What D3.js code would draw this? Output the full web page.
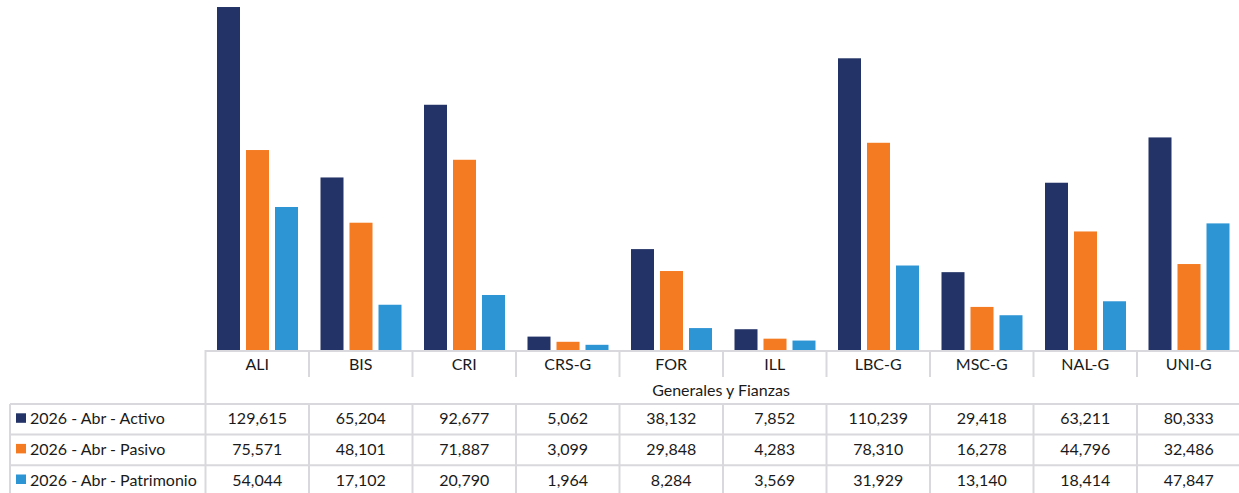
<!DOCTYPE html>
<html><head><meta charset="utf-8">
<script src="https://cdn.jsdelivr.net/npm/d3@7"></script>
<style>body{margin:0;background:#fff;}svg{display:block;font-family:Lato,"Open Sans",sans-serif;}</style>
</head><body><svg id="c" width="1239" height="493"></svg>
<script>
const categories = ["ALI","BIS","CRI","CRS-G","FOR","ILL","LBC-G","MSC-G","NAL-G","UNI-G"];
const groupLabel = "Generales y Fianzas";
const seriesNames = ["2026 - Abr - Activo","2026 - Abr - Pasivo","2026 - Abr - Patrimonio"];
const activo = [129615,65204,92677,5062,38132,7852,110239,29418,63211,80333];
const pasivo = [75571,48101,71887,3099,29848,4283,78310,16278,44796,32486];
const patrimonio = [54044,17102,20790,1964,8284,3569,31929,13140,18414,47847];
const colors = ["#233367","#f47b22","#2e95d5"];

(function(){
const series = [activo, pasivo, patrimonio];
const svg = d3.select("#c");
const pLeft = 205.5, pRight = 1240.5, base = 350, pTop = 6;
const x = d3.scaleBand().domain(categories).range([pLeft, pRight]).padding(0);
const bw = x.bandwidth();
const xs = d3.scaleBand().domain(d3.range(3)).range([11.5, bw - 11]).paddingInner(6/29).paddingOuter(0);
const y = d3.scaleLinear().domain([0, 130000]).range([base, pTop]);

series.forEach((vals, si) => {
  svg.append("g").selectAll("rect").data(vals).join("rect")
    .attr("x", (d, i) => x(categories[i]) + xs(si))
    .attr("width", xs.bandwidth())
    .attr("y", d => y(d))
    .attr("height", d => base - y(d))
    .attr("fill", colors[si]);
});

const lc = "#d8d8dd", lw = 2, fs = 16;
const g = svg.append("g");
const hRow1 = 377, hRow2 = 404, rowH = 30.6;
const rowTops = [hRow2, hRow2 + rowH, hRow2 + 2*rowH];
const tableLeft = 10, tableBottom = hRow2 + 3*rowH;
function line(x1,y1,x2,y2){ g.append("line").attr("x1",x1).attr("y1",y1).attr("x2",x2).attr("y2",y2).attr("stroke",lc).attr("stroke-width",lw); }
line(pLeft, base+1, pRight, base+1);
line(pLeft, base, pLeft, hRow2);
categories.forEach((c,i) => { if (i>0) line(x(c), base, x(c), hRow1); });
rowTops.forEach(t => line(tableLeft, t, pRight, t));
line(tableLeft, hRow2, tableLeft, tableBottom);
line(pLeft, hRow2, pLeft, tableBottom);
categories.forEach((c,i) => { if (i>0) line(x(c), hRow2, x(c), tableBottom); });

g.selectAll("text.cat").data(categories).join("text").attr("class","cat")
  .attr("x", d => x(d) + bw/2).attr("y", 363.5).attr("text-anchor","middle")
  .attr("dominant-baseline","central").attr("font-size",fs).attr("fill","#1a1a1a").text(d => d);
g.append("text").attr("x", (pLeft+pRight)/2 - 2).attr("y", 389.5).attr("text-anchor","middle")
  .attr("dominant-baseline","central").attr("font-size",fs).attr("fill","#1a1a1a").text(groupLabel);

series.forEach((vals, si) => {
  const cy = rowTops[si] + 13.8;
  g.append("rect").attr("x",16).attr("y",cy-4.5).attr("width",10).attr("height",9.5).attr("fill",colors[si]);
  g.append("text").attr("x",30).attr("y",cy).attr("dominant-baseline","central")
    .attr("font-size",fs).attr("fill","#1a1a1a").text(seriesNames[si]);
  g.append("g").selectAll("text").data(vals).join("text")
    .attr("x", (d,i) => x(categories[i]) + bw/2).attr("y", cy)
    .attr("text-anchor","middle").attr("dominant-baseline","central")
    .attr("font-size",fs).attr("fill","#1a1a1a").text(d => d3.format(",")(d));
});
})();
</script></body></html>
